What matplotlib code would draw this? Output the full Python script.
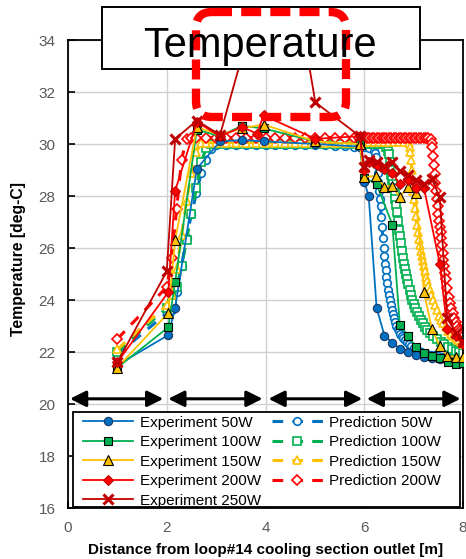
import matplotlib
matplotlib.use("Agg")
import matplotlib.pyplot as plt
from matplotlib.patches import FancyBboxPatch, Rectangle

plt.rcParams['font.family'] = ['Liberation Sans', 'DejaVu Sans']

# colours per heater power
c50 = '#0070C0'
c100 = '#00B050'
c150 = '#FFC000'
c200 = '#FF0000'
c250 = '#C00000'

# experiment data: distance [m] / temperature [deg-C]
ex50 = [1.0, 2.03, 2.17, 2.61, 3.08, 3.52, 3.96, 5.01, 5.91, 6.0, 6.09, 6.25, 6.41, 6.57, 6.72, 6.88,
        7.04, 7.21, 7.37, 7.53, 7.69, 7.85, 8.0]
et50 = [21.5, 22.65, 23.7, 29.05, 30.1, 30.15, 30.1, 30.0, 29.9, 28.55, 28.0, 23.7, 22.63, 22.35, 22.12, 22.0,
        21.88, 21.82, 21.78, 21.75, 21.72, 21.7, 21.7]

ex100 = [1.0, 2.03, 2.17, 2.61, 3.08, 3.52, 3.96, 5.01, 5.91, 6.0, 6.25, 6.57, 6.72, 6.88, 7.04, 7.21,
         7.37, 7.53, 7.69, 7.85, 8.0]
et100 = [21.4, 22.95, 24.7, 30.55, 30.3, 30.7, 30.6, 30.1, 30.0, 28.7, 28.45, 26.9, 23.05, 22.63, 22.2, 21.95,
         21.86, 21.77, 21.63, 21.54, 21.58]

ex150 = [1.0, 2.03, 2.17, 2.61, 3.08, 3.52, 3.96, 5.01, 5.91, 6.0, 6.24, 6.41, 6.56, 6.72, 6.88, 7.04,
         7.21, 7.37, 7.53, 7.68, 7.85, 8.0]
et150 = [21.4, 23.5, 26.3, 30.65, 30.35, 30.6, 30.75, 30.1, 30.0, 28.72, 28.78, 28.35, 28.4, 27.95, 28.35, 28.1,
         24.3, 22.9, 22.22, 21.86, 21.8, 21.8]

ex200 = [1.0, 2.03, 2.17, 2.61, 3.08, 3.52, 3.83, 3.96, 5.01, 5.91, 6.0, 6.09, 6.25, 6.41, 6.57, 6.72,
         6.88, 7.04, 7.21, 7.53, 7.68, 7.85, 8.0]
et200 = [21.6, 24.3, 28.2, 30.85, 30.3, 30.65, 30.4, 31.1, 30.2, 30.3, 29.0, 29.3, 29.2, 29.05, 28.9, 28.45,
         28.6, 28.3, 28.3, 25.4, 22.9, 22.6, 22.3]

ex250 = [1.0, 2.0, 2.17, 2.61, 3.08, 4.35, 5.01, 5.91, 6.0, 6.09, 6.25, 6.41, 6.57, 6.72, 6.88, 7.04,
         7.21, 7.37, 7.53, 7.68, 7.85, 8.0]
et250 = [21.6, 25.1, 30.2, 30.9, 30.35, 39.0, 31.6, 30.3, 29.1, 29.4, 29.3, 29.15, 29.3, 28.95, 28.8, 28.6,
         28.45, 28.65, 27.95, 23.3, 22.75, 22.4]

# prediction data
px50 = [1.0, 2.0, 2.1, 2.2, 2.3, 2.4, 2.5, 2.6, 2.7, 2.8, 2.9, 3.0, 3.2, 3.4, 3.6, 3.8, 4.0, 4.2, 4.4,
        4.6, 4.8, 5.0, 5.2, 5.4, 5.6, 5.8, 6.0, 6.1, 6.2, 6.22, 6.24, 6.255, 6.27, 6.285, 6.3, 6.315,
        6.33, 6.345, 6.36, 6.375, 6.39, 6.405, 6.42, 6.435, 6.45, 6.465, 6.48, 6.5, 6.52, 6.54, 6.56,
        6.58, 6.6, 6.625, 6.65, 6.675, 6.7, 6.73, 6.76, 6.79, 6.82, 6.86, 6.9, 6.95, 7.0, 7.05, 7.1,
        7.15, 7.2, 7.28, 7.35, 7.43, 7.5, 7.58, 7.65, 7.73, 7.8, 7.9, 8.0]
pt50 = [21.9, 23.5, 23.6, 24.3, 25.3, 26.4, 27.3, 28.1, 28.9, 29.4, 29.8, 29.95, 29.95, 29.95, 29.95,
        29.95, 29.95, 29.95, 29.95, 29.95, 29.95, 29.95, 29.95, 29.93, 29.92, 29.9, 29.9, 29.85, 29.75,
        29.65, 29.5, 29.2, 28.9, 28.55, 28.2, 27.9, 27.6, 27.2, 26.8, 26.4, 26.0, 25.7, 25.4, 25.15,
        24.9, 24.65, 24.4, 24.2, 24.0, 23.8, 23.6, 23.45, 23.3, 23.15, 23.0, 22.9, 22.8, 22.7, 22.6,
        22.52, 22.45, 22.37, 22.3, 22.22, 22.15, 22.1, 22.05, 22.01, 21.98, 21.94, 21.9, 21.87, 21.85,
        21.82, 21.8, 21.77, 21.75, 21.72, 21.7]

px100 = [1.0, 2.0, 2.1, 2.2, 2.3, 2.4, 2.5, 2.6, 2.7, 2.8, 2.9, 3.1, 3.3, 3.5, 3.7, 3.9, 4.1, 4.3, 4.5,
         4.7, 4.9, 5.1, 5.3, 5.5, 5.7, 5.9, 6.0, 6.1, 6.2, 6.3, 6.4, 6.45, 6.48, 6.5, 6.515, 6.53, 6.545,
         6.56, 6.58, 6.6, 6.615, 6.63, 6.645, 6.66, 6.68, 6.7, 6.72, 6.74, 6.76, 6.78, 6.8, 6.82, 6.84,
         6.86, 6.89, 6.92, 6.945, 6.97, 7.0, 7.03, 7.065, 7.1, 7.14, 7.18, 7.23, 7.28, 7.34, 7.4, 7.47,
         7.55, 7.62, 7.7, 7.77, 7.85, 7.92, 8.0]
pt100 = [22.0, 23.7, 23.9, 24.5, 25.3, 26.3, 27.3, 28.3, 29.3, 29.85, 30.0, 30.0, 30.0, 30.0, 30.0, 30.0,
         30.0, 30.0, 30.0, 30.0, 30.0, 30.0, 30.0, 30.0, 30.0, 30.0, 30.0, 30.0, 30.0, 30.0, 30.0, 29.9,
         29.75, 29.6, 29.3, 29.0, 28.8, 28.6, 28.45, 28.3, 28.1, 27.9, 27.65, 27.4, 27.05, 26.7, 26.45,
         26.2, 25.9, 25.6, 25.4, 25.2, 25.0, 24.8, 24.6, 24.4, 24.2, 24.0, 23.85, 23.7, 23.55, 23.4,
         23.25, 23.1, 22.97, 22.85, 22.72, 22.6, 22.5, 22.4, 22.3, 22.2, 22.12, 22.05, 22.0, 21.95]

px150 = [1.0, 2.0, 2.1, 2.2, 2.3, 2.4, 2.5, 2.6, 2.7, 2.8, 3.0, 3.2, 3.4, 3.6, 3.8, 4.0, 4.2, 4.4, 4.6,
         4.8, 5.0, 5.2, 5.4, 5.6, 5.8, 5.9, 6.0, 6.1, 6.2, 6.3, 6.4, 6.5, 6.6, 6.7, 6.8, 6.9, 6.92, 6.935,
         6.95, 6.96, 6.97, 6.985, 7.0, 7.02, 7.04, 7.06, 7.08, 7.1, 7.12, 7.14, 7.16, 7.18, 7.2, 7.225,
         7.25, 7.275, 7.3, 7.33, 7.36, 7.395, 7.43, 7.47, 7.51, 7.555, 7.6, 7.65, 7.7, 7.75, 7.8, 7.85,
         7.9, 7.95, 8.0]
pt150 = [22.1, 23.8, 24.2, 25.2, 26.5, 27.8, 28.9, 29.7, 30.05, 30.05, 30.05, 30.05, 30.05, 30.05, 30.05,
         30.05, 30.05, 30.05, 30.05, 30.05, 30.05, 30.05, 30.05, 30.05, 30.05, 30.05, 30.08, 30.08, 30.08,
         30.08, 30.08, 30.08, 30.08, 30.08, 30.08, 30.05, 29.9, 29.7, 29.4, 29.0, 28.5, 28.2, 27.9, 27.55,
         27.25, 26.9, 26.6, 26.35, 26.1, 25.9, 25.7, 25.5, 25.3, 25.1, 24.9, 24.72, 24.55, 24.37, 24.2,
         24.0, 23.8, 23.6, 23.4, 23.25, 23.1, 22.95, 22.8, 22.7, 22.6, 22.52, 22.45, 22.37, 22.3]

px200 = [1.0, 2.0, 2.1, 2.2, 2.3, 2.4, 2.5, 2.6, 2.8, 3.0, 3.2, 3.4, 3.6, 3.8, 4.0, 4.2, 4.4, 4.6, 4.8,
         5.0, 5.2, 5.4, 5.6, 5.8, 5.9, 6.0, 6.05, 6.1, 6.15, 6.2, 6.25, 6.3, 6.35, 6.4, 6.45, 6.5, 6.55,
         6.6, 6.65, 6.7, 6.75, 6.8, 6.85, 6.9, 6.95, 7.0, 7.05, 7.1, 7.15, 7.2, 7.25, 7.3, 7.35, 7.365,
         7.38, 7.395, 7.41, 7.425, 7.44, 7.455, 7.47, 7.485, 7.5, 7.515, 7.53, 7.545, 7.56, 7.575, 7.59,
         7.605, 7.62, 7.64, 7.66, 7.685, 7.71, 7.735, 7.76, 7.79, 7.82, 7.85, 7.88, 7.91, 7.94, 7.97, 8.0]
pt200 = [22.5, 24.5, 25.6, 27.5, 29.4, 30.2, 30.25, 30.25, 30.25, 30.25, 30.25, 30.25, 30.25, 30.25,
         30.25, 30.25, 30.25, 30.25, 30.25, 30.25, 30.25, 30.25, 30.25, 30.25, 30.25, 30.25, 30.25, 30.25,
         30.25, 30.25, 30.25, 30.25, 30.25, 30.25, 30.25, 30.25, 30.25, 30.25, 30.25, 30.25, 30.25, 30.25,
         30.25, 30.25, 30.25, 30.25, 30.25, 30.25, 30.25, 30.25, 30.25, 30.25, 30.2, 30.05, 29.9, 29.55,
         29.2, 28.85, 28.5, 28.2, 27.9, 27.6, 27.3, 27.05, 26.8, 26.6, 26.4, 26.1, 25.8, 25.55, 25.3,
         25.05, 24.8, 24.45, 24.1, 23.9, 23.7, 23.5, 23.3, 23.15, 23.0, 22.9, 22.8, 22.7, 22.6]

# section arrows along the bottom
arrow_from = [0.04, 2.03, 4.06, 6.05]
arrow_to = [1.93, 3.94, 5.96, 7.95]
arrow_y = 20.2

fig = plt.figure(figsize=(4.66, 5.59), dpi=100)
ax = fig.add_axes([68/466, 51/559, 395/466, 468/559])

ax.set_xlim(0, 8)
ax.set_ylim(16, 34)
ax.set_xticks(range(0, 9, 2))
ax.set_yticks(range(16, 35, 2))
ax.grid(color='#d0d0d0', lw=1)
ax.set_axisbelow(True)
ax.tick_params(direction='in', length=5, width=1.2, labelsize=11, labelcolor='#595959', pad=9,
               top=False, right=False)
for s in ax.spines.values():
    s.set_linewidth(1.3)
    s.set_color('black')

dash = (0, (3.5, 3))
ax.plot(px50, pt50, ls=dash, lw=2.2, color=c50, marker='o', ms=5.5, mfc='white', mec=c50, mew=1.2,
        label='Prediction 50W', zorder=2)
ax.plot(px100, pt100, ls=dash, lw=2.2, color=c100, marker='s', ms=5.5, mfc='white', mec=c100, mew=1.2,
        label='Prediction 100W', zorder=2)
ax.plot(px150, pt150, ls=dash, lw=2.2, color=c150, marker='^', ms=6, mfc='white', mec=c150, mew=1.2,
        label='Prediction 150W', zorder=2)
ax.plot(px200, pt200, ls=dash, lw=2.2, color=c200, marker='D', ms=5, mfc='white', mec=c200, mew=1.2,
        label='Prediction 200W', zorder=2)

ax.plot(ex50, et50, '-', lw=1.3, color=c50, marker='o', ms=6, mfc=c50, mec='#1F3864', mew=0.8,
        label='Experiment 50W', zorder=3)
ax.plot(ex100, et100, '-', lw=1.3, color=c100, marker='s', ms=6, mfc=c100, mec='black', mew=0.8,
        label='Experiment 100W', zorder=3)
ax.plot(ex150, et150, '-', lw=1.3, color=c150, marker='^', ms=6.5, mfc=c150, mec='black', mew=0.8,
        label='Experiment 150W', zorder=3)
ax.plot(ex200, et200, '-', lw=1.3, color=c200, marker='D', ms=5.5, mfc=c200, mec='#C00000', mew=0.8,
        label='Experiment 200W', zorder=3)
ax.plot(ex250, et250, '-', lw=1.3, color=c250, marker='x', ms=7, mec=c250, mew=2.2,
        label='Experiment 250W', zorder=3)

for a, b in zip(arrow_from, arrow_to):
    ax.annotate('', xy=(b, arrow_y), xytext=(a, arrow_y),
                arrowprops=dict(arrowstyle='<|-|>,head_length=0.8,head_width=0.4', lw=2.2,
                                color='black', shrinkA=0, shrinkB=0, mutation_scale=12), zorder=4)

# legend frame drawn separately so the inner padding can match
ax.add_patch(Rectangle((0.0127, 0.0021), 0.9797, 0.203, transform=ax.transAxes, fc='white',
                       ec='black', lw=1.3, zorder=4.5, clip_on=False))
h, l = ax.get_legend_handles_labels()
order = [4, 5, 6, 7, 8, 0, 1, 2, 3]
leg = ax.legend([h[i] for i in order], [l[i] for i in order], ncol=2, fontsize=11,
                loc='upper left', bbox_to_anchor=(0.038, 0.197), frameon=False,
                borderpad=0, labelspacing=0.36, handlelength=3.3, handletextpad=0.4,
                columnspacing=0.75, borderaxespad=0)
leg.set_zorder(5)

ax.set_xlabel('Distance from loop#14 cooling section outlet [m]', fontsize=11, fontweight='bold',
              labelpad=6)
ax.set_ylabel('Temperature [deg-C]', fontsize=11.3, fontweight='bold', labelpad=9)
ax.yaxis.label.set_y(0.532)

# overlay in pixel coordinates for the title box and the red highlight frame
ov = fig.add_axes([0, 0, 1, 1], zorder=10)
ov.set_xlim(0, 466)
ov.set_ylim(559, 0)
ov.axis('off')
ov.patch.set_alpha(0)
ov.add_patch(Rectangle((102, 7), 318, 62, fc='white', ec='black', lw=1.4))
ov.text(260, 57, 'Temperature', fontsize=30, ha='center', va='baseline', color='black')
ov.add_patch(FancyBboxPatch((196, 12), 150, 105, boxstyle='round,pad=0,rounding_size=16',
                            fc='none', ec='#FF0000', lw=6, ls=(0, (2.4, 1.1))))

fig.savefig('out.png', dpi=100)
